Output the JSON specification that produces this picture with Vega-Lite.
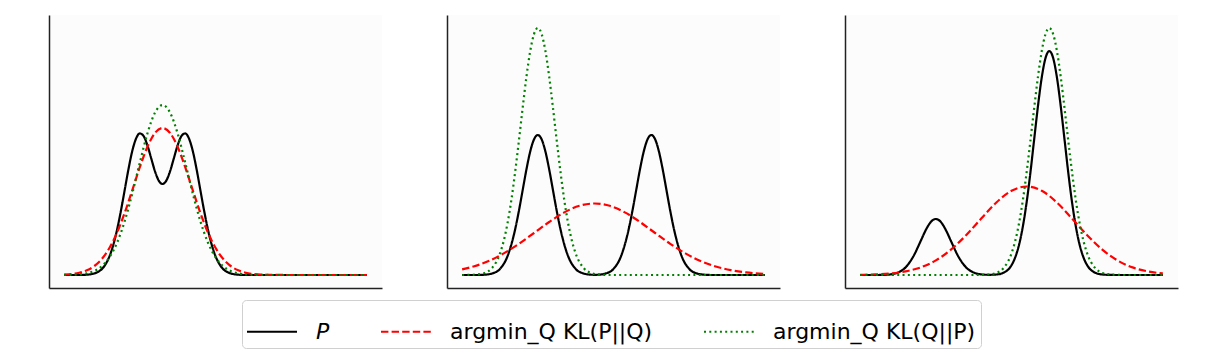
{
"$schema": "https://vega.github.io/schema/vega-lite/v6.json",
"padding": {"left": 49, "top": 15, "right": 5, "bottom": 5},
"background": "white",
"data": {"values": [
{"p":1,"s":"P","x":-2,"y":0},{"p":1,"s":"P","x":-1.6,"y":0},{"p":1,"s":"P","x":-1.4,"y":0.3},{"p":1,"s":"P","x":-1.2,"y":1.6},{"p":1,"s":"P","x":-1.1,"y":3.2},{"p":1,"s":"P","x":-1,"y":6.1},{"p":1,"s":"P","x":-0.9,"y":11.1},{"p":1,"s":"P","x":-0.8,"y":18.9},{"p":1,"s":"P","x":-0.7,"y":30.3},{"p":1,"s":"P","x":-0.6,"y":45.5},{"p":1,"s":"P","x":-0.5,"y":64.1},{"p":1,"s":"P","x":-0.4,"y":84.9},{"p":1,"s":"P","x":-0.3,"y":105.8},{"p":1,"s":"P","x":-0.2,"y":123.9},{"p":1,"s":"P","x":-0.1,"y":136.4},{"p":1,"s":"P","x":0,"y":141.6},{"p":1,"s":"P","x":0.1,"y":138.9},{"p":1,"s":"P","x":0.2,"y":129.7},{"p":1,"s":"P","x":0.3,"y":116.8},{"p":1,"s":"P","x":0.4,"y":103.8},{"p":1,"s":"P","x":0.5,"y":94.4},{"p":1,"s":"P","x":0.6,"y":91.0},{"p":1,"s":"P","x":0.7,"y":94.4},{"p":1,"s":"P","x":0.8,"y":103.8},{"p":1,"s":"P","x":0.9,"y":116.8},{"p":1,"s":"P","x":1.0,"y":129.7},{"p":1,"s":"P","x":1.1,"y":138.9},{"p":1,"s":"P","x":1.2,"y":141.6},{"p":1,"s":"P","x":1.3,"y":136.4},{"p":1,"s":"P","x":1.4,"y":123.9},{"p":1,"s":"P","x":1.5,"y":105.8},{"p":1,"s":"P","x":1.6,"y":84.9},{"p":1,"s":"P","x":1.7,"y":64.1},{"p":1,"s":"P","x":1.8,"y":45.5},{"p":1,"s":"P","x":1.9,"y":30.3},{"p":1,"s":"P","x":2.0,"y":18.9},{"p":1,"s":"P","x":2.1,"y":11.1},{"p":1,"s":"P","x":2.2,"y":6.1},{"p":1,"s":"P","x":2.3,"y":3.2},{"p":1,"s":"P","x":2.4,"y":1.6},{"p":1,"s":"P","x":2.6,"y":0.3},{"p":1,"s":"P","x":2.8,"y":0},{"p":1,"s":"P","x":6,"y":0},
{"p":1,"s":"F","x":-2,"y":0.4},{"p":1,"s":"F","x":-1.8,"y":1.0},{"p":1,"s":"F","x":-1.6,"y":2.3},{"p":1,"s":"F","x":-1.4,"y":4.7},{"p":1,"s":"F","x":-1.2,"y":9.0},{"p":1,"s":"F","x":-1,"y":16.2},{"p":1,"s":"F","x":-0.8,"y":27.2},{"p":1,"s":"F","x":-0.6,"y":42.5},{"p":1,"s":"F","x":-0.4,"y":62.1},{"p":1,"s":"F","x":-0.2,"y":84.7},{"p":1,"s":"F","x":0,"y":107.8},{"p":1,"s":"F","x":0.2,"y":128.1},{"p":1,"s":"F","x":0.4,"y":142.0},{"p":1,"s":"F","x":0.6,"y":147},{"p":1,"s":"F","x":0.8,"y":142.0},{"p":1,"s":"F","x":1.0,"y":128.1},{"p":1,"s":"F","x":1.2,"y":107.8},{"p":1,"s":"F","x":1.4,"y":84.7},{"p":1,"s":"F","x":1.6,"y":62.1},{"p":1,"s":"F","x":1.8,"y":42.5},{"p":1,"s":"F","x":2.0,"y":27.2},{"p":1,"s":"F","x":2.2,"y":16.2},{"p":1,"s":"F","x":2.4,"y":9.0},{"p":1,"s":"F","x":2.6,"y":4.7},{"p":1,"s":"F","x":2.8,"y":2.3},{"p":1,"s":"F","x":3.0,"y":1.0},{"p":1,"s":"F","x":3.2,"y":0.4},{"p":1,"s":"F","x":3.6,"y":0.1},{"p":1,"s":"F","x":4,"y":0},{"p":1,"s":"F","x":6,"y":0},
{"p":1,"s":"R","x":-2,"y":0.1},{"p":1,"s":"R","x":-1.8,"y":0.2},{"p":1,"s":"R","x":-1.6,"y":0.6},{"p":1,"s":"R","x":-1.4,"y":1.7},{"p":1,"s":"R","x":-1.2,"y":4.1},{"p":1,"s":"R","x":-1,"y":8.9},{"p":1,"s":"R","x":-0.8,"y":17.8},{"p":1,"s":"R","x":-0.6,"y":32.4},{"p":1,"s":"R","x":-0.4,"y":53.8},{"p":1,"s":"R","x":-0.2,"y":81.4},{"p":1,"s":"R","x":0,"y":112.3},{"p":1,"s":"R","x":0.2,"y":141.4},{"p":1,"s":"R","x":0.4,"y":162.3},{"p":1,"s":"R","x":0.6,"y":170},{"p":1,"s":"R","x":0.8,"y":162.3},{"p":1,"s":"R","x":1.0,"y":141.4},{"p":1,"s":"R","x":1.2,"y":112.3},{"p":1,"s":"R","x":1.4,"y":81.4},{"p":1,"s":"R","x":1.6,"y":53.8},{"p":1,"s":"R","x":1.8,"y":32.4},{"p":1,"s":"R","x":2.0,"y":17.8},{"p":1,"s":"R","x":2.2,"y":8.9},{"p":1,"s":"R","x":2.4,"y":4.1},{"p":1,"s":"R","x":2.6,"y":1.7},{"p":1,"s":"R","x":2.8,"y":0.6},{"p":1,"s":"R","x":3.0,"y":0.2},{"p":1,"s":"R","x":3.2,"y":0.1},{"p":1,"s":"R","x":3.6,"y":0},{"p":1,"s":"R","x":6,"y":0},
{"p":2,"s":"P","x":-2,"y":0},{"p":2,"s":"P","x":-1.6,"y":0},{"p":2,"s":"P","x":-1.4,"y":0.3},{"p":2,"s":"P","x":-1.2,"y":1.6},{"p":2,"s":"P","x":-1,"y":6.1},{"p":2,"s":"P","x":-0.8,"y":18.9},{"p":2,"s":"P","x":-0.6,"y":45.5},{"p":2,"s":"P","x":-0.5,"y":64.1},{"p":2,"s":"P","x":-0.4,"y":84.9},{"p":2,"s":"P","x":-0.3,"y":105.7},{"p":2,"s":"P","x":-0.2,"y":123.6},{"p":2,"s":"P","x":-0.1,"y":135.7},{"p":2,"s":"P","x":0,"y":140},{"p":2,"s":"P","x":0.1,"y":135.7},{"p":2,"s":"P","x":0.2,"y":123.6},{"p":2,"s":"P","x":0.3,"y":105.7},{"p":2,"s":"P","x":0.4,"y":84.9},{"p":2,"s":"P","x":0.5,"y":64.1},{"p":2,"s":"P","x":0.6,"y":45.5},{"p":2,"s":"P","x":0.8,"y":18.9},{"p":2,"s":"P","x":1.0,"y":6.1},{"p":2,"s":"P","x":1.2,"y":1.6},{"p":2,"s":"P","x":1.4,"y":0.3},{"p":2,"s":"P","x":1.5,"y":0.2},{"p":2,"s":"P","x":1.6,"y":0.3},{"p":2,"s":"P","x":1.8,"y":1.6},{"p":2,"s":"P","x":2.0,"y":6.1},{"p":2,"s":"P","x":2.2,"y":18.9},{"p":2,"s":"P","x":2.4,"y":45.5},{"p":2,"s":"P","x":2.5,"y":64.1},{"p":2,"s":"P","x":2.6,"y":84.9},{"p":2,"s":"P","x":2.7,"y":105.7},{"p":2,"s":"P","x":2.8,"y":123.6},{"p":2,"s":"P","x":2.9,"y":135.7},{"p":2,"s":"P","x":3.0,"y":140},{"p":2,"s":"P","x":3.1,"y":135.7},{"p":2,"s":"P","x":3.2,"y":123.6},{"p":2,"s":"P","x":3.3,"y":105.7},{"p":2,"s":"P","x":3.4,"y":84.9},{"p":2,"s":"P","x":3.5,"y":64.1},{"p":2,"s":"P","x":3.6,"y":45.5},{"p":2,"s":"P","x":3.8,"y":18.9},{"p":2,"s":"P","x":4.0,"y":6.1},{"p":2,"s":"P","x":4.2,"y":1.6},{"p":2,"s":"P","x":4.4,"y":0.3},{"p":2,"s":"P","x":4.6,"y":0},{"p":2,"s":"P","x":6,"y":0},
{"p":2,"s":"F","x":-2,"y":5.6},{"p":2,"s":"F","x":-1.7,"y":8.5},{"p":2,"s":"F","x":-1.3,"y":14.0},{"p":2,"s":"F","x":-0.9,"y":21.6},{"p":2,"s":"F","x":-0.5,"y":31.2},{"p":2,"s":"F","x":-0.1,"y":42.0},{"p":2,"s":"F","x":0.3,"y":53.0},{"p":2,"s":"F","x":0.7,"y":62.6},{"p":2,"s":"F","x":1.1,"y":69.2},{"p":2,"s":"F","x":1.5,"y":71.5},{"p":2,"s":"F","x":1.9,"y":69.2},{"p":2,"s":"F","x":2.3,"y":62.6},{"p":2,"s":"F","x":2.7,"y":53.0},{"p":2,"s":"F","x":3.1,"y":42.0},{"p":2,"s":"F","x":3.5,"y":31.2},{"p":2,"s":"F","x":3.9,"y":21.6},{"p":2,"s":"F","x":4.3,"y":14.0},{"p":2,"s":"F","x":4.7,"y":8.5},{"p":2,"s":"F","x":5.1,"y":4.9},{"p":2,"s":"F","x":5.5,"y":2.6},{"p":2,"s":"F","x":6,"y":1.1},
{"p":2,"s":"R","x":-2,"y":0},{"p":2,"s":"R","x":-1.8,"y":0.1},{"p":2,"s":"R","x":-1.6,"y":0.5},{"p":2,"s":"R","x":-1.4,"y":2.1},{"p":2,"s":"R","x":-1.2,"y":7.4},{"p":2,"s":"R","x":-1.0,"y":21.6},{"p":2,"s":"R","x":-0.9,"y":34.3},{"p":2,"s":"R","x":-0.8,"y":51.9},{"p":2,"s":"R","x":-0.7,"y":74.8},{"p":2,"s":"R","x":-0.6,"y":102.8},{"p":2,"s":"R","x":-0.5,"y":134.3},{"p":2,"s":"R","x":-0.4,"y":167.3},{"p":2,"s":"R","x":-0.3,"y":198.4},{"p":2,"s":"R","x":-0.2,"y":224.1},{"p":2,"s":"R","x":-0.1,"y":241.0},{"p":2,"s":"R","x":0,"y":247},{"p":2,"s":"R","x":0.1,"y":241.0},{"p":2,"s":"R","x":0.2,"y":224.1},{"p":2,"s":"R","x":0.3,"y":198.4},{"p":2,"s":"R","x":0.4,"y":167.3},{"p":2,"s":"R","x":0.5,"y":134.3},{"p":2,"s":"R","x":0.6,"y":102.8},{"p":2,"s":"R","x":0.7,"y":74.8},{"p":2,"s":"R","x":0.8,"y":51.9},{"p":2,"s":"R","x":0.9,"y":34.3},{"p":2,"s":"R","x":1.0,"y":21.6},{"p":2,"s":"R","x":1.2,"y":7.4},{"p":2,"s":"R","x":1.4,"y":2.1},{"p":2,"s":"R","x":1.6,"y":0.5},{"p":2,"s":"R","x":1.8,"y":0.1},{"p":2,"s":"R","x":2.0,"y":0},{"p":2,"s":"R","x":6,"y":0},
{"p":3,"s":"P","x":-2,"y":0},{"p":3,"s":"P","x":-1.6,"y":0},{"p":3,"s":"P","x":-1.4,"y":0.1},{"p":3,"s":"P","x":-1.2,"y":0.6},{"p":3,"s":"P","x":-1.0,"y":2.5},{"p":3,"s":"P","x":-0.8,"y":7.6},{"p":3,"s":"P","x":-0.6,"y":18.2},{"p":3,"s":"P","x":-0.4,"y":34.0},{"p":3,"s":"P","x":-0.3,"y":42.3},{"p":3,"s":"P","x":-0.2,"y":49.4},{"p":3,"s":"P","x":-0.1,"y":54.3},{"p":3,"s":"P","x":0,"y":56},{"p":3,"s":"P","x":0.1,"y":54.3},{"p":3,"s":"P","x":0.2,"y":49.4},{"p":3,"s":"P","x":0.3,"y":42.3},{"p":3,"s":"P","x":0.4,"y":34.0},{"p":3,"s":"P","x":0.6,"y":18.2},{"p":3,"s":"P","x":0.8,"y":7.6},{"p":3,"s":"P","x":1.0,"y":2.5},{"p":3,"s":"P","x":1.2,"y":0.6},{"p":3,"s":"P","x":1.4,"y":0.2},{"p":3,"s":"P","x":1.6,"y":0.5},{"p":3,"s":"P","x":1.8,"y":2.5},{"p":3,"s":"P","x":2.0,"y":9.8},{"p":3,"s":"P","x":2.1,"y":17.8},{"p":3,"s":"P","x":2.2,"y":30.3},{"p":3,"s":"P","x":2.3,"y":48.5},{"p":3,"s":"P","x":2.4,"y":72.7},{"p":3,"s":"P","x":2.5,"y":102.5},{"p":3,"s":"P","x":2.6,"y":135.9},{"p":3,"s":"P","x":2.7,"y":169.1},{"p":3,"s":"P","x":2.8,"y":197.7},{"p":3,"s":"P","x":2.9,"y":217.1},{"p":3,"s":"P","x":3.0,"y":224},{"p":3,"s":"P","x":3.1,"y":217.1},{"p":3,"s":"P","x":3.2,"y":197.7},{"p":3,"s":"P","x":3.3,"y":169.1},{"p":3,"s":"P","x":3.4,"y":135.9},{"p":3,"s":"P","x":3.5,"y":102.5},{"p":3,"s":"P","x":3.6,"y":72.7},{"p":3,"s":"P","x":3.7,"y":48.5},{"p":3,"s":"P","x":3.8,"y":30.3},{"p":3,"s":"P","x":3.9,"y":17.8},{"p":3,"s":"P","x":4.0,"y":9.8},{"p":3,"s":"P","x":4.2,"y":2.5},{"p":3,"s":"P","x":4.4,"y":0.5},{"p":3,"s":"P","x":4.6,"y":0.1},{"p":3,"s":"P","x":4.8,"y":0},{"p":3,"s":"P","x":6,"y":0},
{"p":3,"s":"F","x":-2,"y":0.2},{"p":3,"s":"F","x":-1.6,"y":0.6},{"p":3,"s":"F","x":-1.2,"y":1.5},{"p":3,"s":"F","x":-0.8,"y":3.6},{"p":3,"s":"F","x":-0.4,"y":7.6},{"p":3,"s":"F","x":0,"y":14.6},{"p":3,"s":"F","x":0.4,"y":25.4},{"p":3,"s":"F","x":0.8,"y":39.8},{"p":3,"s":"F","x":1.2,"y":56.4},{"p":3,"s":"F","x":1.6,"y":72.5},{"p":3,"s":"F","x":2.0,"y":84.2},{"p":3,"s":"F","x":2.4,"y":88.5},{"p":3,"s":"F","x":2.8,"y":84.2},{"p":3,"s":"F","x":3.2,"y":72.5},{"p":3,"s":"F","x":3.6,"y":56.4},{"p":3,"s":"F","x":4.0,"y":39.8},{"p":3,"s":"F","x":4.4,"y":25.4},{"p":3,"s":"F","x":4.8,"y":14.6},{"p":3,"s":"F","x":5.2,"y":7.6},{"p":3,"s":"F","x":5.6,"y":3.6},{"p":3,"s":"F","x":6,"y":1.5},
{"p":3,"s":"R","x":-2,"y":0},{"p":3,"s":"R","x":1.0,"y":0},{"p":3,"s":"R","x":1.2,"y":0.1},{"p":3,"s":"R","x":1.4,"y":0.5},{"p":3,"s":"R","x":1.6,"y":2.1},{"p":3,"s":"R","x":1.8,"y":7.4},{"p":3,"s":"R","x":2.0,"y":21.6},{"p":3,"s":"R","x":2.1,"y":34.3},{"p":3,"s":"R","x":2.2,"y":51.9},{"p":3,"s":"R","x":2.3,"y":74.8},{"p":3,"s":"R","x":2.4,"y":102.8},{"p":3,"s":"R","x":2.5,"y":134.3},{"p":3,"s":"R","x":2.6,"y":167.3},{"p":3,"s":"R","x":2.7,"y":198.4},{"p":3,"s":"R","x":2.8,"y":224.1},{"p":3,"s":"R","x":2.9,"y":241.0},{"p":3,"s":"R","x":3.0,"y":247},{"p":3,"s":"R","x":3.1,"y":241.0},{"p":3,"s":"R","x":3.2,"y":224.1},{"p":3,"s":"R","x":3.3,"y":198.4},{"p":3,"s":"R","x":3.4,"y":167.3},{"p":3,"s":"R","x":3.5,"y":134.3},{"p":3,"s":"R","x":3.6,"y":102.8},{"p":3,"s":"R","x":3.7,"y":74.8},{"p":3,"s":"R","x":3.8,"y":51.9},{"p":3,"s":"R","x":3.9,"y":34.3},{"p":3,"s":"R","x":4.0,"y":21.6},{"p":3,"s":"R","x":4.2,"y":7.4},{"p":3,"s":"R","x":4.4,"y":2.1},{"p":3,"s":"R","x":4.6,"y":0.5},{"p":3,"s":"R","x":4.8,"y":0.1},{"p":3,"s":"R","x":5.0,"y":0},{"p":3,"s":"R","x":6,"y":0}
]},
"facet": {"column": {"field": "p", "type": "ordinal", "header": {"labels": false, "title": null}}},
"spacing": 65,
"resolve": {"axis": {"y": "independent", "x": "independent"}},
"spec": {
  "width": 333,
  "height": 273,
  "mark": {"type": "line", "strokeWidth": 2.2, "interpolate": "monotone"},
  "encoding": {
    "x": {"field": "x", "type": "quantitative", "scale": {"domain": [-2.4, 6.4], "nice": false, "zero": false},
          "axis": {"ticks": false, "labels": false, "grid": false, "title": null, "domainColor": "#222222", "domainWidth": 1.5}},
    "y": {"field": "y", "type": "quantitative", "scale": {"domain": [-13, 260], "nice": false, "zero": false},
          "axis": {"ticks": false, "labels": false, "grid": false, "title": null, "domainColor": "#222222", "domainWidth": 1.5}},
    "color": {"field": "s", "type": "nominal", "sort": ["P", "F", "R"],
              "scale": {"domain": ["P", "F", "R"], "range": ["#000000", "#ff0000", "#008000"]},
              "legend": {"orient": "none", "legendX": 193, "legendY": 285, "direction": "horizontal", "title": null,
                         "symbolType": "stroke", "symbolSize": 300, "symbolStrokeWidth": 2.2,
                         "labelFontSize": 22, "labelFont": "DejaVu Sans", "labelColor": "#000000", "labelOffset": 19,
                         "columnPadding": 46, "padding": 5, "strokeColor": "#d0d0d0", "fillColor": "white", "cornerRadius": 4, "labelLimit": 400,
                         "labelExpr": "datum.value == 'F' ? 'argmin_Q KL(P||Q)' : datum.value == 'R' ? 'argmin_Q KL(Q||P)' : 'P'",
                         "encode": {"symbols": {"update": {"size": {"value": 2500}, "x": {"value": 25}}},
                                    "labels": {"update": {"x": {"value": 69}, "fontStyle": {"signal": "datum.value == 'P' ? 'italic' : 'normal'"}}}}}},
    "strokeDash": {"field": "s", "type": "nominal", "sort": ["P", "F", "R"],
              "scale": {"domain": ["P", "F", "R"], "range": [[1, 0], [7.4, 3.2], [2, 3.3]]},
              "legend": {"orient": "none", "legendX": 193, "legendY": 285, "direction": "horizontal", "title": null,
                         "symbolType": "stroke", "symbolSize": 300, "symbolStrokeWidth": 2.2,
                         "labelFontSize": 22, "labelFont": "DejaVu Sans", "labelColor": "#000000", "labelOffset": 19,
                         "columnPadding": 46, "padding": 5, "strokeColor": "#d0d0d0", "fillColor": "white", "cornerRadius": 4, "labelLimit": 400,
                         "labelExpr": "datum.value == 'F' ? 'argmin_Q KL(P||Q)' : datum.value == 'R' ? 'argmin_Q KL(Q||P)' : 'P'",
                         "encode": {"symbols": {"update": {"size": {"value": 2500}, "x": {"value": 25}}},
                                    "labels": {"update": {"x": {"value": 69}, "fontStyle": {"signal": "datum.value == 'P' ? 'italic' : 'normal'"}}}}}}
  }
},
"config": {"view": {"stroke": null, "fill": "#fcfcfc"}, "font": "DejaVu Sans"}
}
